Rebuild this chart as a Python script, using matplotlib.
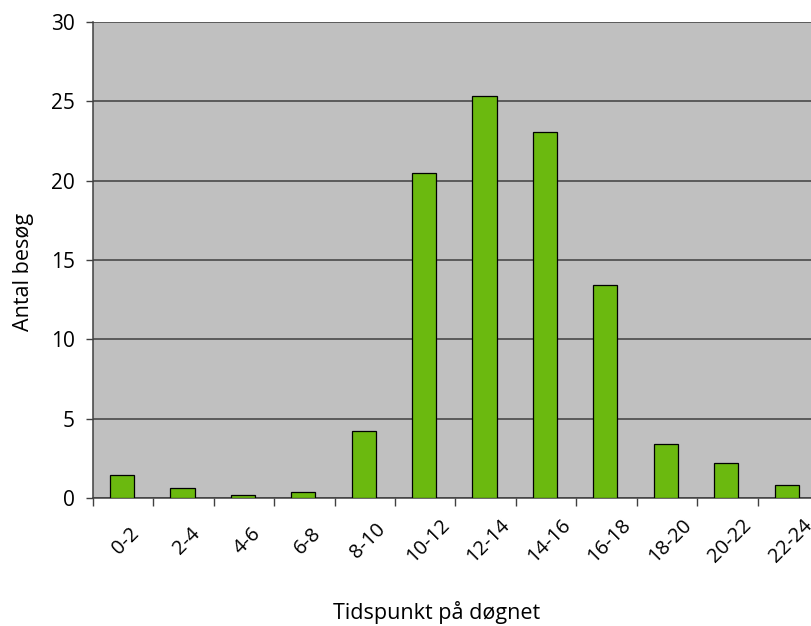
import numpy as np
import matplotlib.pyplot as plt

# Visits per two-hour slot
intervals = ['0-2', '2-4', '4-6', '6-8', '8-10', '10-12', '12-14',
             '14-16', '16-18', '18-20', '20-22', '22-24']
visits = [1.45, 0.6, 0.2, 0.35, 4.2, 20.5, 25.35, 23.05, 13.45, 3.4, 2.2, 0.82]
y_ticks = [0, 5, 10, 15, 20, 25, 30]

plt.rcParams['font.family'] = ['Open Sans', 'DejaVu Sans']

fig = plt.figure(figsize=(8.11, 6.26), dpi=100)
ax_h = 476
ax = fig.add_axes([93 / 811, 1 - 498 / 626, 725 / 811, ax_h / 626])
ax.set_facecolor('#c0c0c0')

x = np.arange(len(intervals))
ax.bar(x - 0.02, visits, width=0.4, color='#6bb90f', edgecolor='black',
       linewidth=0.9, zorder=3)

ax.set_xlim(-0.5, len(intervals) - 0.5)
ax.set_ylim(0, 30)
ax.set_yticks(y_ticks)
ax.tick_params(axis='y', labelsize=15, length=5, width=1, color='#404040', pad=8)
ax.yaxis.grid(True, color='#404040', linewidth=1.1, zorder=1)

# boundary ticks between categories, labels in the middle
ax.set_xticks(np.arange(len(intervals) + 1) - 0.5)
ax.set_xticklabels([])
ax.tick_params(axis='x', which='major', length=6, width=1, color='#404040')

trans = ax.get_xaxis_transform()
for xi, lab in zip(x, intervals):
    ax.text(xi + 0.05, -43 / ax_h, lab, transform=trans, rotation=45,
            ha='center', va='center', rotation_mode='anchor', fontsize=14.5,
            clip_on=False)

for side in ['top', 'right']:
    ax.spines[side].set_visible(False)
ax.spines['left'].set_color('#404040')
ax.spines['bottom'].set_color('#404040')
ax.spines['left'].set_linewidth(1.1)
ax.spines['bottom'].set_linewidth(1.1)

fig.text(437 / 811, 1 - 619 / 626, 'Tidspunkt på døgnet', ha='center',
         va='baseline', fontsize=15.5)
fig.text(24 / 811, 1 - 272 / 626, 'Antal besøg', ha='center', va='center',
         rotation=90, fontsize=15.5)

fig.savefig('out.png', dpi=100)
